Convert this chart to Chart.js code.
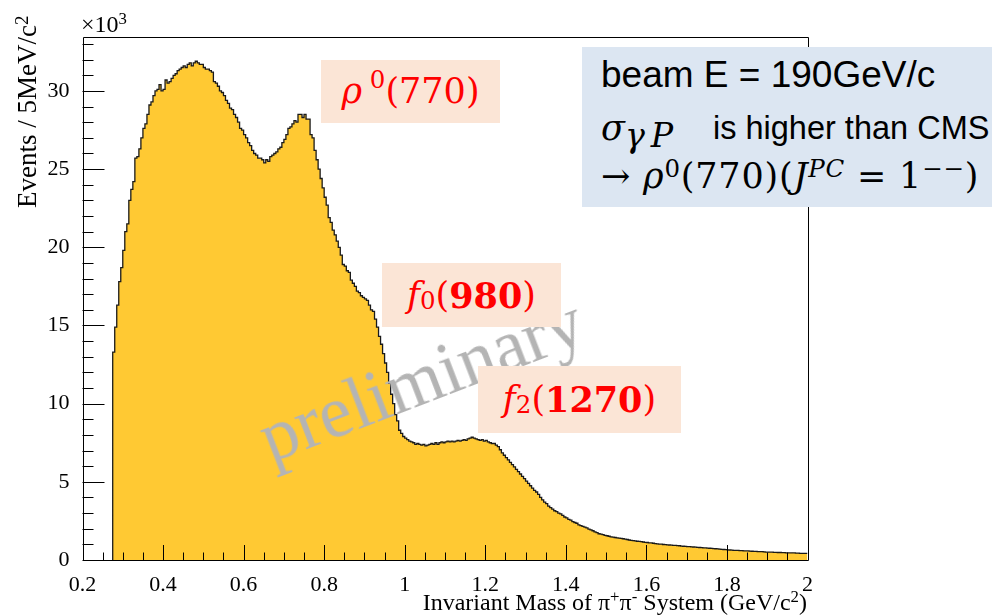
<!DOCTYPE html>
<html>
<head>
<meta charset="utf-8">
<script src="https://cdn.jsdelivr.net/npm/chart.js@4.4.1/dist/chart.umd.min.js"></script>
<style>
  body { margin: 0; background: #fff; }
  #wrap { position: relative; width: 992px; height: 615px; overflow: hidden; }
  #c { position: absolute; left: 0; top: 0; }
  .lbl { position: absolute; white-space: nowrap; line-height: 1; font-family: "Liberation Serif", "DejaVu Serif", serif; color: #000; }
  .up { position: relative; top: -0.45em; font-size: 0.7em; }
  .dn { position: relative; top: 0.25em; font-size: 0.7em; }
  #prelim { position: absolute; left: 249px; top: 406px; font: 73px "Liberation Serif", serif; line-height: 1; color: #b4b4b4; transform-origin: 0 0; transform: rotate(-21deg); white-space: nowrap; }
  .tag { position: absolute; background: #fbe5d6; color: #ff0000; display: flex; align-items: center; justify-content: center; font-family: "DejaVu Serif", serif; font-size: 35px; line-height: 1; white-space: nowrap; }
  .tag i { font-style: italic; }
  #info { position: absolute; left: 582px; top: 47px; width: 410px; height: 160px; background: #dce6f2; }
  #info div { position: absolute; white-space: nowrap; line-height: 1; color: #000; }
  .sans { font-family: "Liberation Sans", Arial, sans-serif; font-size: 37px; }
  .math { font-family: "DejaVu Serif", serif; font-size: 35px; }
</style>
</head>
<body>
<div id="wrap">
  <canvas id="c"></canvas>
  <div class="lbl" id="xexp" style="left:81px; top:12px; font-size:24px;">×10<span class="up">3</span></div>
  <div class="lbl" id="ytitle" style="left:14px; top:208px; font-size:27px; transform-origin:0 0; transform:rotate(-90deg);">Events / 5MeV/c<span class="up">2</span></div>
  <div class="lbl" id="xtitle" style="right:185px; top:590px; font-size:24px;">Invariant Mass of π<span class="up">+</span>π<span class="up">-</span> System (GeV/c<span class="up">2</span>)</div>
  <div id="prelim">preliminary</div>
  <div class="tag" style="left:321px; top:60px; width:179px; height:63px;"><i>ρ</i><span class="up">&nbsp;0</span>(770)</div>
  <div class="tag" style="left:382px; top:263px; width:179px; height:64px;"><i>f</i><span class="dn">0</span>(<b>980</b>)</div>
  <div class="tag" style="left:478px; top:366px; width:203px; height:67px;"><i>f</i><span class="dn">2</span>(<b>1270</b>)</div>
  <div id="info">
    <div class="sans" style="left:19px; top:9px;">beam E = 190GeV/c</div>
    <div class="math" style="left:19px; top:64px;"><i>σ</i><span style="position:relative; top:0.22em; font-size:0.95em; letter-spacing:6px;"><i>γP</i></span></div>
    <div class="sans" style="left:131px; top:65px; font-size:32.5px;">is higher than CMS</div>
    <div class="math" style="left:19px; top:112px; letter-spacing:0.8px;">→ <i>ρ</i><span class="up">0</span>(770)(<i>J</i><span class="up"><i>PC</i></span> = 1<span class="up">−−</span>)</div>
  </div>
</div>
<script>
// pi+pi- invariant mass, 5 MeV bins starting at 0.275 GeV/c^2
var binStart = 0.275;
var binWidth = 0.005;
// events per bin, in thousands (x10^3)
var eventsK = [
  7.7, 13.3, 14.9, 16.3, 17.8, 18.7, 19.8, 21.0, 21.5, 23.0,
  23.7, 24.2, 25.7, 25.8, 26.3, 27.0, 27.6, 27.9, 28.5, 29.1,
  29.3, 29.7, 30.0, 30.1, 30.4, 30.0, 30.1, 30.7, 30.5, 30.6,
  30.8, 31.0, 31.1, 31.3, 31.4, 31.5, 31.6, 31.5, 31.7, 31.8,
  31.6, 31.8, 31.9, 31.8, 31.7, 31.7, 31.5, 31.4, 31.4, 31.3,
  31.2, 30.6, 30.5, 30.3, 30.0, 29.9, 29.7, 29.4, 29.2, 28.9,
  28.8, 28.5, 28.3, 28.0, 27.6, 27.5, 27.2, 27.0, 26.7, 26.5,
  26.2, 26.0, 25.9, 25.7, 25.7, 25.6, 25.4, 25.6, 25.5, 25.8,
  25.9, 26.0, 26.1, 26.3, 26.4, 26.7, 26.9, 27.2, 27.6, 27.7,
  27.9, 28.1, 28.0, 28.5, 28.5, 28.3, 28.5, 28.2, 28.2, 27.2,
  27.0, 26.2, 25.6, 25.0, 24.4, 23.8, 23.2, 22.7, 21.9, 21.6,
  21.1, 20.8, 20.4, 20.0, 19.5, 18.9, 18.8, 18.5, 18.4, 17.9,
  17.7, 17.5, 17.2, 17.1, 16.9, 16.8, 16.7, 16.6, 16.3, 16.0,
  15.9, 15.4, 14.9, 14.3, 13.8, 13.2, 12.6, 12.0, 11.3, 10.6,
  10.0, 9.3, 8.9, 8.3, 8.1, 7.9, 7.8, 7.7, 7.6, 7.55,
  7.5, 7.4, 7.45, 7.4, 7.35, 7.4, 7.3, 7.35, 7.4, 7.45,
  7.4, 7.5, 7.4, 7.5, 7.55, 7.5, 7.55, 7.6, 7.55, 7.6,
  7.55, 7.6, 7.65, 7.6, 7.65, 7.7, 7.65, 7.75, 7.8, 7.85,
  7.8, 7.75, 7.7, 7.65, 7.7, 7.6, 7.65, 7.55, 7.5, 7.45,
  7.45, 7.35, 7.25, 7.05, 6.85, 6.7, 6.55, 6.4, 6.25, 6.1,
  5.95, 5.8, 5.65, 5.5, 5.35, 5.2, 5.05, 4.9, 4.75, 4.6,
  4.45, 4.35, 4.2, 4.0, 3.85, 3.7, 3.6, 3.45, 3.35, 3.25,
  3.15, 3.1, 3.0, 2.95, 2.85, 2.75, 2.7, 2.6, 2.55, 2.45,
  2.4, 2.35, 2.25, 2.2, 2.15, 2.1, 2.05, 1.98, 1.93, 1.87,
  1.8, 1.75, 1.68, 1.65, 1.62, 1.58, 1.55, 1.52, 1.48, 1.46,
  1.44, 1.42, 1.4, 1.38, 1.36, 1.33, 1.31, 1.28, 1.26, 1.24,
  1.22, 1.2, 1.19, 1.17, 1.15, 1.13, 1.12, 1.1, 1.09, 1.07,
  1.05, 1.03, 1.02, 1.01, 0.99, 0.98, 0.97, 0.96, 0.95, 0.94,
  0.93, 0.92, 0.91, 0.89, 0.88, 0.87, 0.86, 0.85, 0.84, 0.83,
  0.82, 0.81, 0.80, 0.79, 0.78, 0.77, 0.76, 0.75, 0.74, 0.73,
  0.72, 0.71, 0.70, 0.68, 0.67, 0.66, 0.65, 0.64, 0.63, 0.62,
  0.62, 0.61, 0.60, 0.60, 0.59, 0.58, 0.58, 0.57, 0.56, 0.55,
  0.55, 0.54, 0.53, 0.53, 0.52, 0.51, 0.51, 0.50, 0.50, 0.49,
  0.49, 0.48, 0.48, 0.47, 0.47, 0.46, 0.46, 0.45, 0.46, 0.45,
  0.44, 0.44, 0.43, 0.43, 0.42
];
var xTicks = [0.2, 0.4, 0.6, 0.8, 1, 1.2, 1.4, 1.6, 1.8, 2];
var yTicks = [0, 5, 10, 15, 20, 25, 30];

var xMin = 0.2, xMax = 2, yMax = 33.45;
var fillColor = '#ffc933';
var tickFont = { family: '"Liberation Serif", "DejaVu Serif", serif', size: 22 };

// step points: bin low edges, closing at the upper edge of the last bin
var points = [{ x: binStart, y: 0 }];
for (var i = 0; i < eventsK.length; i++) {
    points.push({ x: +(binStart + i * binWidth).toFixed(3), y: eventsK[i] });
}
points.push({ x: +(binStart + eventsK.length * binWidth).toFixed(3), y: eventsK[eventsK.length - 1] });

// ROOT like frame with inward ticks
var rootFrame = {
    id: 'rootFrame',
    afterDatasetsDraw: function (chart) {
        var ctx = chart.ctx, a = chart.chartArea;
        var xs = chart.scales.x, ys = chart.scales.y;
        ctx.save();
        ctx.strokeStyle = '#000';
        ctx.lineWidth = 1;
        ctx.beginPath();
        ctx.rect(Math.round(a.left) + 0.5, Math.round(a.top) + 0.5, Math.round(a.right - a.left), Math.round(a.bottom - a.top));
        ctx.stroke();
        ctx.beginPath();
        var v, px;
        for (v = 0; v <= 36; v++) {
            var xv = xMin + v * 0.05;
            if (xv > xMax + 1e-9) break;
            px = Math.round(xs.getPixelForValue(xv)) + 0.5;
            var len = (v % 4 === 0) ? 15 : 7.5;
            ctx.moveTo(px, a.bottom);
            ctx.lineTo(px, a.bottom - len);
        }
        for (v = 0; v <= yMax; v++) {
            var py = Math.round(ys.getPixelForValue(v)) + 0.5;
            var ylen = (v % 5 === 0) ? 22 : 11;
            ctx.moveTo(a.left, py);
            ctx.lineTo(a.left + ylen, py);
        }
        ctx.stroke();
        ctx.restore();
    }
};

var ctx = document.getElementById('c').getContext('2d');
document.getElementById('c').width = 992;
document.getElementById('c').height = 615;

var chart = new Chart(ctx, {
    type: 'line',
    data: {
        datasets: [{
            data: points,
            stepped: 'after',
            fill: 'origin',
            backgroundColor: fillColor,
            borderColor: '#1a1a1a',
            borderWidth: 1.3,
            pointRadius: 0
        }]
    },
    options: {
        responsive: false,
        animation: false,
        layout: { padding: { top: 37, right: 184.5, left: 0, bottom: 0 } },
        plugins: { legend: { display: false }, tooltip: { enabled: false } },
        scales: {
            x: {
                type: 'linear', min: xMin, max: xMax,
                grid: { display: false }, border: { display: false },
                afterFit: function (s) { s.height = 55; },
                afterBuildTicks: function (s) { s.ticks = xTicks.map(function (t) { return { value: t }; }); },
                ticks: {
                    font: tickFont, color: '#000', padding: 4, maxRotation: 0, autoSkip: false,
                    callback: function (val) { return String(Math.round(val * 10) / 10); }
                }
            },
            y: {
                type: 'linear', min: 0, max: yMax,
                grid: { display: false }, border: { display: false },
                afterFit: function (s) { s.width = 82.5; },
                afterBuildTicks: function (s) { s.ticks = yTicks.map(function (t) { return { value: t }; }); },
                ticks: { font: tickFont, color: '#000', padding: 5, autoSkip: false }
            }
        }
    },
    plugins: [rootFrame]
});
</script>
</body>
</html>
